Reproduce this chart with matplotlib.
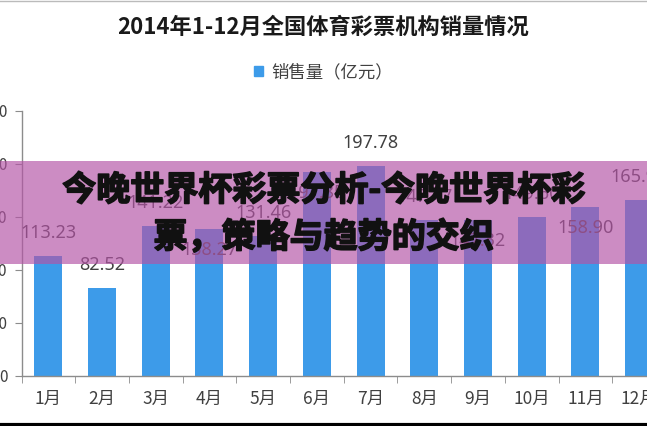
import numpy as np
import matplotlib
matplotlib.use('Agg')
import matplotlib.pyplot as plt
import matplotlib.patheffects as pe
from matplotlib.patches import Rectangle, Patch
from matplotlib.lines import Line2D

# 数据
months = ['1月', '2月', '3月', '4月', '5月', '6月', '7月', '8月', '9月', '10月', '11月', '12月']
sales = [113.23, 82.52, 141.22, 138.27, 131.46, 191.85, 197.78, 147.47, 147.32, 149.60, 158.90, 165.96]
label_pos = ['up', 'up', 'up', 'down', 'up', 'down', 'up', 'up', 'down', 'up', 'down', 'up']

title = '2014年1-12月全国体育彩票机构销量情况'
legend_text = '销售量（亿元）'
banner_lines = ['今晚世界杯彩票分析-今晚世界杯彩', '票，策略与趋势的交织']

W, H = 647, 426
cjk = ['Noto Sans CJK SC', 'DejaVu Sans']
plt.rcParams['font.family'] = cjk

fig = plt.figure(figsize=(W / 100, H / 100), dpi=100)
ax = fig.add_axes([21.5 / W, 50 / H, 644.4 / W, 265.3 / H])

x = np.arange(len(months))
ax.bar(x, sales, width=0.52, color='#3d9be9', zorder=2)

ax.set_xlim(-0.5, 11.5)
ax.set_ylim(0, 250)
for s in ['top', 'right']:
    ax.spines[s].set_visible(False)
for s in ['left', 'bottom']:
    ax.spines[s].set_color('#8c8c8c')
    ax.spines[s].set_linewidth(1.0)

ax.set_yticks(np.arange(0, 251, 50))
ax.tick_params(axis='y', length=5, color='#8c8c8c', pad=5, labelsize=11, labelcolor='#404040')
ax.set_xticks(x)
ax.set_xticklabels(months)
ax.tick_params(axis='x', which='major', length=0, pad=10, labelsize=12.5, labelcolor='#404040')
ax.set_xticks(np.arange(-0.5, 12, 1), minor=True)
ax.tick_params(axis='x', which='minor', length=5, color='#8c8c8c')

# 数据标签
for xi, v, p in zip(x, sales, label_pos):
    off = 23 if p == 'up' else -21
    ax.annotate(f'{v:.2f}', (xi, v), xytext=(0, off * 0.72), textcoords='offset points',
                ha='center', va='center', fontsize=13, color='#404040',
                family=['Noto Sans', 'DejaVu Sans'], zorder=3)

fig.text(0.5, 1 - 27 / H, title, ha='center', va='center', fontsize=16,
         fontweight='bold', color='#1a1a1a')
fig.legend(handles=[Patch(color='#3d9be9')], labels=[legend_text], loc='center',
           bbox_to_anchor=(0.5, 1 - 72 / H), frameon=False, fontsize=12.5,
           handlelength=0.5, handleheight=0.5, handletextpad=0.5, labelcolor='#404040')

# 横幅
fig.patches.append(Rectangle((0, (H - 264) / H), 1, 103 / H, transform=fig.transFigure,
                             facecolor='#b454a6', alpha=0.67, edgecolor='none', zorder=5))
stroke = [pe.withStroke(linewidth=1.2, foreground='#111111')]
fig.text(0.5, 1 - 190 / H, banner_lines[0], ha='center', va='center', fontsize=24.5,
         fontweight='heavy', color='#111111', zorder=6, path_effects=stroke)
fig.text(0.5, 1 - 237 / H, banner_lines[1], ha='center', va='center', fontsize=24.5,
         fontweight='heavy', color='#111111', zorder=6, path_effects=stroke)

fig.add_artist(Line2D([0, 1], [1.5 / H, 1.5 / H], color='black', lw=3, transform=fig.transFigure))
fig.add_artist(Line2D([0, 1], [1 - 0.5 / H, 1 - 0.5 / H], color='#bbbbbb', lw=1, transform=fig.transFigure))

fig.savefig('out.png', dpi=100)
